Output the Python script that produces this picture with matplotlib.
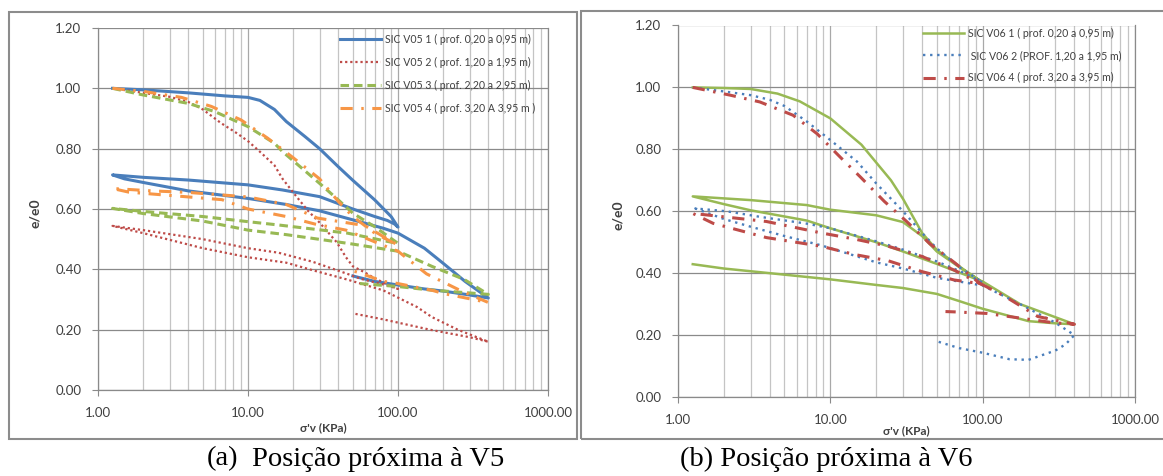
import matplotlib
matplotlib.use("Agg")
import matplotlib.pyplot as plt
from matplotlib.patches import Rectangle
from matplotlib.ticker import FixedLocator, NullFormatter, LogLocator

W, H = 1163, 476
DPI = 100

# ---------------- data (sigma'v in kPa, e/e0) ----------------
# Chart (a) - V5
v05_1_s = [1.25, 2, 4, 7, 10, 12, 15, 18, 24, 30, 40, 50, 70, 90, 100,
           95, 85, 70, 50, 30, 17, 10, 4, 2, 1.25,
           1.5, 2, 4, 10, 18, 30, 50, 80, 100, 150, 200, 280, 400,
           300, 200, 150, 100, 70, 50]
v05_1_e = [1.00, 0.995, 0.985, 0.975, 0.970, 0.960, 0.930, 0.890, 0.840, 0.800, 0.740, 0.695, 0.630, 0.575, 0.540,
           0.550, 0.562, 0.575, 0.600, 0.641, 0.663, 0.680, 0.696, 0.705, 0.713,
           0.700, 0.688, 0.660, 0.635, 0.615, 0.594, 0.564, 0.536, 0.520, 0.470, 0.420, 0.360, 0.305,
           0.315, 0.328, 0.335, 0.348, 0.360, 0.378]

v05_2_s = [1.25, 2, 3, 4, 5, 6.6, 8.5, 10, 12, 15, 17, 20, 25, 30, 39, 45, 50, 60, 70, 85, 100,
           87, 57, 46, 27, 16, 10, 5, 2, 1.25,
           2, 5, 10, 18, 27, 46, 80, 134, 168, 250, 400,
           300, 163, 80, 50]
v05_2_e = [1.00, 0.985, 0.972, 0.955, 0.930, 0.885, 0.850, 0.825, 0.790, 0.745, 0.700, 0.655, 0.595, 0.555, 0.490, 0.440, 0.410, 0.390, 0.370, 0.350, 0.335,
           0.345, 0.368, 0.385, 0.425, 0.455, 0.470, 0.500, 0.530, 0.544,
           0.520, 0.470, 0.440, 0.422, 0.397, 0.366, 0.330, 0.275, 0.242, 0.200, 0.160,
           0.175, 0.200, 0.234, 0.254]

v05_3_s = [1.25, 2, 4, 6, 10, 15, 17, 20, 30, 40, 50, 70, 100,
           90, 46, 16, 10, 5, 2, 1.25,
           2, 5, 10, 18, 48, 100, 168, 275, 400,
           160, 100, 52]
v05_3_e = [1.00, 0.978, 0.950, 0.923, 0.873, 0.818, 0.790, 0.760, 0.685, 0.630, 0.586, 0.541, 0.486,
           0.490, 0.520, 0.547, 0.558, 0.575, 0.592, 0.602,
           0.585, 0.560, 0.530, 0.515, 0.485, 0.460, 0.410, 0.367, 0.317,
           0.332, 0.343, 0.354]

v05_4_s = [1.25, 2, 3.6, 5.7, 9, 13.5, 20, 30, 40, 50, 70, 100,
           60, 29, 18, 10, 4, 2.3, 1.25,
           1.6, 6.7, 10, 18, 28, 45, 75, 100, 155, 260, 400,
           200, 170, 95, 80, 54, 50]
v05_4_e = [1.00, 0.990, 0.970, 0.940, 0.895, 0.835, 0.770, 0.700, 0.625, 0.575, 0.520, 0.480,
           0.545, 0.570, 0.615, 0.640, 0.655, 0.660, 0.668,
           0.656, 0.631, 0.600, 0.575, 0.550, 0.530, 0.485, 0.460, 0.385, 0.330, 0.290,
           0.320, 0.330, 0.355, 0.360, 0.390, 0.395]

# Chart (b) - V6
v06_1_s = [1.25, 2, 3, 4.5, 6.3, 10, 16, 25, 30, 40, 50, 76, 100,
           70, 50, 40, 30, 20, 10, 7, 3, 1.25,
           2, 3, 7, 10, 20, 30, 50, 100, 176, 400,
           300, 200, 100, 70, 50, 30, 20, 10, 4, 2, 1.25]
v06_1_e = [1.00, 0.998, 0.995, 0.980, 0.955, 0.900, 0.815, 0.700, 0.640, 0.530, 0.475, 0.410, 0.370,
           0.420, 0.470, 0.520, 0.565, 0.587, 0.605, 0.620, 0.636, 0.648,
           0.623, 0.603, 0.570, 0.545, 0.500, 0.470, 0.430, 0.373, 0.300, 0.235,
           0.238, 0.245, 0.285, 0.310, 0.333, 0.352, 0.362, 0.380, 0.400, 0.415, 0.429]

v06_2_s = [1.25, 2, 3, 4, 5, 7, 10, 15, 20, 30, 40, 50, 70, 100,
           76, 50, 30, 20, 10, 7, 3.45, 2.08, 1.3,
           2, 3, 5, 8.7, 20, 30, 50, 76, 100, 176, 300, 400,
           350, 300, 200, 150, 100, 70, 50]
v06_2_e = [1.00, 0.987, 0.975, 0.960, 0.940, 0.890, 0.830, 0.760, 0.690, 0.600, 0.530, 0.480, 0.420, 0.370,
           0.400, 0.438, 0.476, 0.503, 0.545, 0.560, 0.582, 0.600, 0.609,
           0.575, 0.550, 0.520, 0.490, 0.435, 0.415, 0.385, 0.370, 0.360, 0.300, 0.240, 0.200,
           0.170, 0.150, 0.120, 0.122, 0.143, 0.158, 0.180]

v06_4_s = [1.25, 2.2, 3.45, 5.7, 8.2, 11.6, 15.8, 22.6, 32, 45, 65, 97,
           65, 40, 24, 14.5, 8.7, 3.8, 1.25,
           1.7, 3.8, 8.7, 14.5, 24, 40, 65, 97, 140, 230, 400,
           290, 176, 106, 65, 57]
v06_4_e = [1.00, 0.975, 0.953, 0.910, 0.850, 0.775, 0.710, 0.632, 0.565, 0.495, 0.435, 0.365,
           0.410, 0.454, 0.487, 0.510, 0.530, 0.567, 0.593,
           0.561, 0.515, 0.487, 0.460, 0.440, 0.405, 0.378, 0.366, 0.325, 0.260, 0.235,
           0.240, 0.255, 0.270, 0.275, 0.276]

labels_a = ["SIC V05 1 ( prof. 0,20 a 0,95 m)",
            "SIC V05 2 ( prof. 1,20 a 1,95 m)",
            "SIC V05 3 ( prof. 2,20 a 2,95 m)",
            "SIC V05 4 ( prof. 3,20 A 3,95 m )"]
labels_b = ["SIC V06 1 ( prof. 0,20 a 0,95 m)",
            " SIC V06 2 (PROF. 1,20 a 1,95 m)",
            "SIC V06 4 ( prof. 3,20 a 3,95 m)"]

x_ticks = [1, 10, 100, 1000]
x_ticklabels = ["1.00", "10.00", "100.00", "1000.00"]
y_ticks = [0.0, 0.2, 0.4, 0.6, 0.8, 1.0, 1.2]
y_ticklabels = ["0.00", "0.20", "0.40", "0.60", "0.80", "1.00", "1.20"]
caption_a_tag, caption_a = "(a)", "Posição próxima à V5"
caption_b = "(b) Posição próxima à V6"
xlabel = "σ'v (KPa)"
ylabel = "e/e0"

# ---------------- style ----------------
BLUE = "#4a7ebb"
RED = "#be4b48"
GREEN = "#98b954"
ORANGE = "#f79646"
GRID_MAJ = "#8a8a8a"
GRID_MIN = "#c4c4c4"
FONT = ["Lato", "DejaVu Sans"]
SERIF = ["Liberation Serif", "DejaVu Serif"]

plt.rcParams["font.family"] = FONT

fig = plt.figure(figsize=(W / DPI, H / DPI), dpi=DPI)
fig.patch.set_facecolor("white")


def px_rect(x0, y0, x1, y1):
    return [x0 / W, 1 - y1 / H, (x1 - x0) / W, (y1 - y0) / H]


# frame boxes
for (x0, y0, x1, y1) in [(9, 12, 577, 439), (581, 11, 1170, 439)]:
    fig.patches.append(Rectangle((x0 / W, 1 - y1 / H), (x1 - x0) / W, (y1 - y0) / H,
                                 transform=fig.transFigure, fill=False,
                                 edgecolor="#8c8c8c", linewidth=1.5))


def style_axes(ax):
    ax.set_xscale("log")
    ax.set_xlim(1, 1000)
    ax.set_ylim(0, 1.2)
    ax.xaxis.set_major_locator(FixedLocator(x_ticks))
    ax.set_xticklabels(x_ticklabels)
    ax.xaxis.set_minor_locator(LogLocator(base=10, subs=range(2, 10)))
    ax.xaxis.set_minor_formatter(NullFormatter())
    ax.set_yticks(y_ticks)
    ax.set_yticklabels(y_ticklabels)
    ax.tick_params(axis="both", which="major", labelsize=9.5, colors="#404040",
                   length=4, width=0.8, direction="out", pad=8)
    ax.tick_params(axis="x", which="major", color=GRID_MAJ)
    ax.tick_params(axis="y", which="major", color=GRID_MAJ)
    ax.tick_params(axis="x", which="minor", length=0)
    ax.grid(True, which="major", axis="y", color=GRID_MAJ, linewidth=0.9)
    ax.grid(True, which="major", axis="x", color="#a8a8a8", linewidth=0.9)
    ax.grid(True, which="minor", axis="x", color=GRID_MIN, linewidth=0.9)
    ax.set_axisbelow(True)
    ax.spines["top"].set_visible(False)
    for s in ["left", "bottom", "right"]:
        ax.spines[s].set_color(GRID_MAJ)
        ax.spines[s].set_linewidth(0.9)


# ---------------- chart (a) ----------------
axa = fig.add_axes(px_rect(98, 28, 548, 390))
style_axes(axa)
axa.plot(v05_1_s, v05_1_e, color=BLUE, lw=2.2, solid_joinstyle="round", label=labels_a[0])
axa.plot(v05_2_s, v05_2_e, color=RED, lw=1.6, linestyle=(0, (1, 1.3)), label=labels_a[1])
axa.plot(v05_3_s, v05_3_e, color=GREEN, lw=2.2, linestyle=(0, (2.8, 1.6)), label=labels_a[2])
axa.plot(v05_4_s, v05_4_e, color=ORANGE, lw=2.2, linestyle=(0, (4, 2.8, 0.8, 2.8)), label=labels_a[3])
lega = axa.legend(loc="upper left", bbox_to_anchor=(340 / W, 1 - 34 / H),
                  bbox_transform=fig.transFigure, frameon=False, fontsize=7.6,
                  handlelength=3.9, handletextpad=0.4, labelspacing=1.13,
                  borderpad=0, borderaxespad=0)
for t in lega.get_texts():
    t.set_color("#404040")

# ---------------- chart (b) ----------------
axb = fig.add_axes(px_rect(678, 25.5, 1135, 397))
style_axes(axb)
axb.plot(v06_1_s, v06_1_e, color=GREEN, lw=1.8, label=labels_b[0])
axb.plot(v06_2_s, v06_2_e, color=BLUE, lw=1.7, linestyle=(0, (1, 2)), label=labels_b[1])
axb.plot(v06_4_s, v06_4_e, color=RED, lw=2.2, linestyle=(0, (4, 2.8, 0.8, 2.8)), label=labels_b[2])
legb = axb.legend(loc="upper left", bbox_to_anchor=(923 / W, 1 - 28 / H),
                  bbox_transform=fig.transFigure, frameon=False, fontsize=7.6,
                  handlelength=3.9, handletextpad=0.4, labelspacing=1.05,
                  borderpad=0, borderaxespad=0)
for t in legb.get_texts():
    t.set_color("#404040")

# axis titles
fig.text(323 / W, 1 - 428 / H, xlabel, ha="center", va="center", fontsize=8.5,
         fontweight="bold", color="#404040", family=FONT)
fig.text(906 / W, 1 - 431 / H, xlabel, ha="center", va="center", fontsize=8.5,
         fontweight="bold", color="#404040", family=FONT)
fig.text(35 / W, 1 - 213 / H, ylabel, ha="center", va="center", fontsize=10,
         fontweight="bold", rotation=90, color="#404040", family=FONT)
fig.text(618 / W, 1 - 215 / H, ylabel, ha="center", va="center", fontsize=10,
         fontweight="bold", rotation=90, color="#404040", family=FONT)

# captions
fig.text(207 / W, 1 - 459 / H, caption_a_tag, ha="left", va="center", fontsize=20.5,
         family=SERIF, color="black")
fig.text(252 / W, 1 - 459 / H, caption_a, ha="left", va="center", fontsize=20.5,
         family=SERIF, color="black")
fig.text(680 / W, 1 - 459 / H, caption_b, ha="left", va="center", fontsize=20.5,
         family=SERIF, color="black")

fig.savefig("out.png", dpi=DPI, facecolor="white")
